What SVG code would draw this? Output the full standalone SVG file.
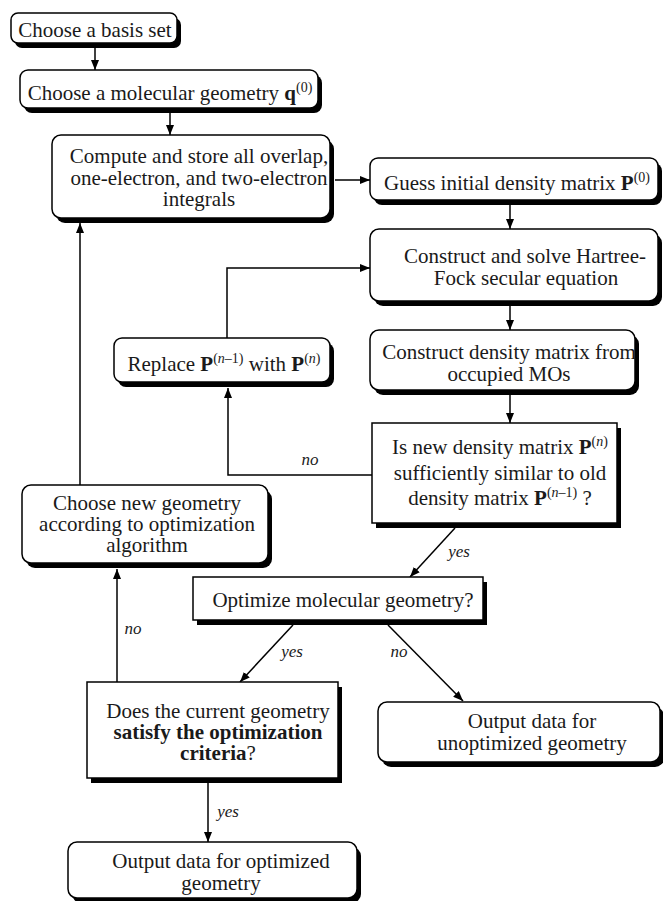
<svg xmlns="http://www.w3.org/2000/svg" width="663" height="901" viewBox="0 0 663 901">
<defs>
<style>
.sh{fill:#000;stroke:none}
.bx{fill:#fff;stroke:#000;stroke-width:1.5}
text{font-family:"Liberation Serif","Times New Roman",serif;font-size:21px;fill:#1a1a1a;text-anchor:middle}
.lb{font-style:italic;font-size:17px}
.b{font-weight:bold}
.sup{font-size:14px}
.c{fill:none;stroke:#000;stroke-width:1.5}
</style>
<marker id="ah" markerUnits="userSpaceOnUse" markerWidth="11" markerHeight="8" refX="10" refY="4" orient="auto">
<path d="M0,0 L10,4 L0,8 z" fill="#000"/>
</marker>
</defs>
<rect width="663" height="901" fill="#fff"/>

<g id="connectors">
<line class="c" x1="95" y1="47" x2="95" y2="70" marker-end="url(#ah)"/>
<line class="c" x1="170" y1="113" x2="170" y2="135" marker-end="url(#ah)"/>
<line class="c" x1="335" y1="180" x2="370" y2="180" marker-end="url(#ah)"/>
<line class="c" x1="510" y1="205" x2="510" y2="229" marker-end="url(#ah)"/>
<line class="c" x1="510" y1="306" x2="510" y2="330" marker-end="url(#ah)"/>
<line class="c" x1="510" y1="395" x2="510" y2="423" marker-end="url(#ah)"/>
<polyline class="c" points="372,475 228,475 228,388" marker-end="url(#ah)"/>
<polyline class="c" points="227,338 227,268 370,268" marker-end="url(#ah)"/>
<line class="c" x1="80" y1="485" x2="80" y2="223" marker-end="url(#ah)"/>
<line class="c" x1="117" y1="682" x2="117" y2="569" marker-end="url(#ah)"/>
<line class="c" x1="455" y1="528" x2="410" y2="577" marker-end="url(#ah)"/>
<line class="c" x1="293" y1="625" x2="240" y2="682" marker-end="url(#ah)"/>
<line class="c" x1="388" y1="625" x2="463" y2="701" marker-end="url(#ah)"/>
<line class="c" x1="208" y1="783" x2="208" y2="842" marker-end="url(#ah)"/>
<text class="lb" x="310" y="465">no</text>
<text class="lb" x="459" y="557">yes</text>
<text class="lb" x="133" y="634">no</text>
<text class="lb" x="292" y="657">yes</text>
<text class="lb" x="399" y="657">no</text>
<text class="lb" x="228" y="817">yes</text>
</g>

<g id="basis">
<rect class="sh" x="15" y="18" width="166" height="30" rx="7"/>
<rect class="bx" x="11" y="13" width="166" height="30" rx="7"/>
<text x="95" y="37">Choose a basis set</text>
</g>

<g id="geometry">
<rect class="sh" x="24" y="75" width="298" height="38" rx="8"/>
<rect class="bx" x="20" y="70" width="298" height="38" rx="8"/>
<text x="170" y="100">Choose a molecular geometry <tspan class="b">q</tspan><tspan class="sup" dy="-8">(0)</tspan></text>
</g>

<g id="integrals">
<rect class="sh" x="56" y="140" width="278" height="83" rx="9"/>
<rect class="bx" x="52" y="135" width="278" height="83" rx="9"/>
<text x="199" y="163">Compute and store all overlap,</text>
<text x="199" y="184.5">one-electron, and two-electron</text>
<text x="199" y="206">integrals</text>
</g>

<g id="guess">
<rect class="sh" x="374" y="163" width="288" height="42" rx="8"/>
<rect class="bx" x="370" y="158" width="288" height="42" rx="8"/>
<text x="517" y="190">Guess initial density matrix <tspan class="b">P</tspan><tspan class="sup" dy="-8">(0)</tspan></text>
</g>

<g id="hartree">
<rect class="sh" x="374" y="234" width="288" height="72" rx="9"/>
<rect class="bx" x="370" y="229" width="288" height="72" rx="9"/>
<text x="525" y="263">Construct and solve Hartree-</text>
<text x="526" y="285">Fock secular equation</text>
</g>

<g id="density">
<rect class="sh" x="374" y="335" width="265" height="60" rx="9"/>
<rect class="bx" x="370" y="330" width="265" height="60" rx="9"/>
<text x="509" y="359">Construct density matrix from</text>
<text x="509" y="381">occupied MOs</text>
</g>

<g id="similar">
<rect class="sh" x="376" y="428" width="245" height="100"/>
<rect class="bx" x="372" y="423" width="245" height="100"/>
<text x="500" y="454">Is new density matrix <tspan class="b">P</tspan><tspan class="sup" dy="-8">(</tspan><tspan class="sup" font-style="italic">n</tspan><tspan class="sup">)</tspan></text>
<text x="500" y="480">sufficiently similar to old</text>
<text x="500" y="505">density matrix <tspan class="b">P</tspan><tspan class="sup" dy="-8">(</tspan><tspan class="sup" font-style="italic">n</tspan><tspan class="sup">–1)</tspan><tspan dy="8"> ?</tspan></text>
</g>

<g id="replace">
<rect class="sh" x="118" y="343" width="216" height="44" rx="8"/>
<rect class="bx" x="114" y="338" width="216" height="44" rx="8"/>
<text x="224" y="371">Replace <tspan class="b">P</tspan><tspan class="sup" dy="-8">(</tspan><tspan class="sup" font-style="italic">n</tspan><tspan class="sup">–1)</tspan><tspan dy="8"> with </tspan><tspan class="b">P</tspan><tspan class="sup" dy="-8">(</tspan><tspan class="sup" font-style="italic">n</tspan><tspan class="sup">)</tspan></text>
</g>

<g id="newgeom">
<rect class="sh" x="26" y="490" width="246" height="78" rx="9"/>
<rect class="bx" x="22" y="485" width="246" height="78" rx="9"/>
<text x="147" y="510">Choose new geometry</text>
<text x="147" y="531">according to optimization</text>
<text x="147" y="552">algorithm</text>
</g>

<g id="optimize">
<rect class="sh" x="197" y="582" width="290" height="43"/>
<rect class="bx" x="193" y="577" width="290" height="43"/>
<text x="343" y="607">Optimize molecular geometry?</text>
</g>

<g id="criteria">
<rect class="sh" x="91" y="687" width="251" height="96"/>
<rect class="bx" x="87" y="682" width="251" height="96"/>
<text x="218" y="718">Does the current geometry</text>
<text x="218" y="739"><tspan class="b">satisfy the optimization</tspan></text>
<text x="218" y="760"><tspan class="b">criteria</tspan>?</text>
</g>

<g id="unoptimized">
<rect class="sh" x="382" y="707" width="282" height="60" rx="9"/>
<rect class="bx" x="378" y="702" width="282" height="60" rx="9"/>
<text x="532" y="728">Output data for</text>
<text x="532" y="750">unoptimized geometry</text>
</g>

<g id="optimized">
<rect class="sh" x="72" y="847" width="289" height="56" rx="9"/>
<rect class="bx" x="68" y="842" width="289" height="56" rx="9"/>
<text x="221" y="868">Output data for optimized</text>
<text x="221" y="890">geometry</text>
</g>
</svg>
